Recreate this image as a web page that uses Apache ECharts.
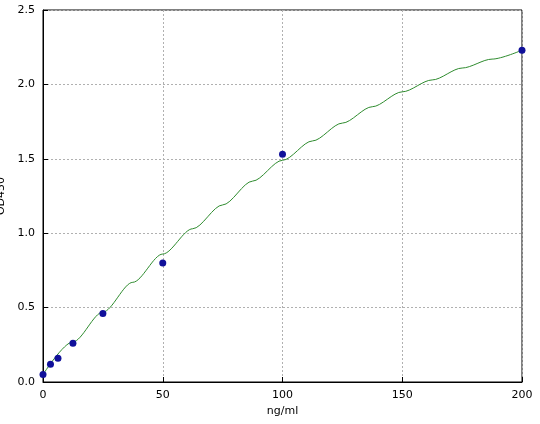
<!DOCTYPE html>
<html><head><meta charset="utf-8">
<script src="https://cdn.jsdelivr.net/npm/echarts@6/dist/echarts.min.js"></script>
<style>html,body{margin:0;padding:0;background:#fff}#c{width:540px;height:424px}</style>
</head><body><div id="c"></div>
<script>
const pointX = [0, 3.125, 6.25, 12.5, 25, 50, 100, 200];
const pointY = [0.05, 0.12, 0.16, 0.26, 0.46, 0.80, 1.53, 2.23];
const curveX = [0, 12.5, 25, 37.5, 50, 62.5, 75, 87.5, 100, 112.5, 125, 137.5, 150, 162.5, 175, 187.5, 200];
const curveY = [0.05, 0.27, 0.47, 0.67, 0.86, 1.03, 1.19, 1.35, 1.49, 1.62, 1.74, 1.85, 1.95, 2.03, 2.11, 2.17, 2.23];
const chart = echarts.init(document.getElementById('c'));
const splitLine = {show:true, lineStyle:{color:'#b0b0b0', type:[2,2], width:1}};
const axisLine = {show:true, onZero:false, lineStyle:{color:'#000'}};
const axisLabel = {color:'#000', fontSize:11, fontFamily:'DejaVu Sans'};
chart.setOption({
  animation:false,
  grid:{left:43, right:18, top:10, bottom:42, show:true, borderColor:'#000', borderWidth:1, containLabel:false, outerBoundsMode:'none'},
  xAxis:{type:'value', min:0, max:200, interval:50, name:'ng/ml', nameLocation:'middle', nameGap:22,
    nameTextStyle:{color:'#000', fontSize:11, fontFamily:'DejaVu Sans'},
    axisLine, axisTick:{show:true, inside:true, lineStyle:{color:'#000'}}, axisLabel, splitLine},
  yAxis:{type:'value', min:0, max:2.5, interval:0.5, name:'OD450', nameLocation:'middle', nameGap:30,
    nameTextStyle:{color:'#000', fontSize:11, fontFamily:'DejaVu Sans'},
    axisLine, axisTick:{show:true, inside:true, lineStyle:{color:'#000'}},
    axisLabel:{...axisLabel, formatter:v=>v.toFixed(1)}, splitLine},
  series:[
    {type:'line', data:curveX.map((x,i)=>[x,curveY[i]]), smooth:0.3, smoothMonotone:'x', showSymbol:false,
      lineStyle:{color:'#2e8b2e', width:1}, z:2},
    {type:'scatter', data:pointX.map((x,i)=>[x,pointY[i]]), symbolSize:7,
      itemStyle:{color:'#10109a', opacity:1}, z:3}
  ]
});
</script></body></html>
